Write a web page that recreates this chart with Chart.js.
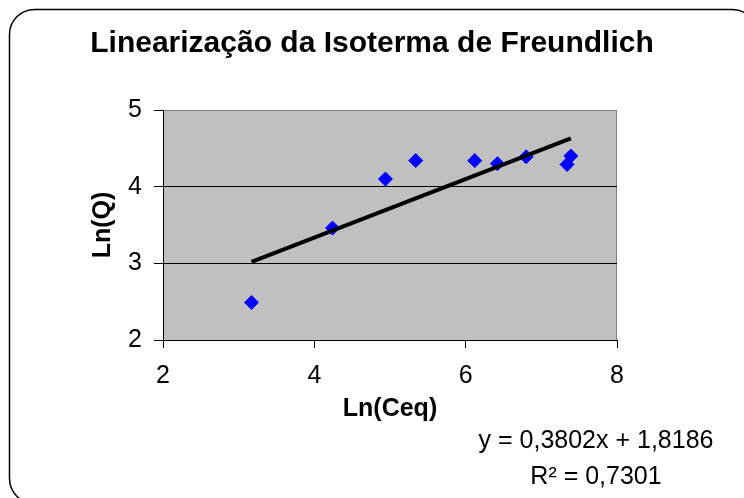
<!DOCTYPE html>
<html>
<head>
<meta charset="utf-8">
<script src="https://cdn.jsdelivr.net/npm/chart.js@4/dist/chart.umd.min.js"></script>
<style>
  html, body { margin: 0; padding: 0; background: #fff; }
  #wrap { width: 744px; height: 498px; position: relative; }
</style>
</head>
<body>
<div id="wrap"><canvas id="chart" width="744" height="498"></canvas></div>
<script>
// ---------------------------------------------------------------------------
// Data
// ---------------------------------------------------------------------------
const lnCeq = [3.17, 4.24, 4.94, 5.34, 6.12, 6.42, 6.80, 7.34, 7.39];
const lnQ   = [2.49, 3.46, 4.10, 4.34, 4.34, 4.30, 4.39, 4.29, 4.40];

// linear trend line ends, as drawn in the picture
const trendX = [3.17, 7.39];
const trendY = [3.02, 4.63];

const xTicks = [2, 4, 6, 8];
const yTicks = [2, 3, 4, 5];

const equationLines = ['y = 0,3802x + 1,8186', 'R² = 0,7301'];

const FONT = "Arial, 'Liberation Sans', sans-serif";
Chart.defaults.color = '#000';
Chart.defaults.font.family = FONT;

// ---------------------------------------------------------------------------
// Frame, plot background and trend-line equation
// ---------------------------------------------------------------------------
const decor = {
  id: 'decor',
  beforeDraw(chart) {
    const { ctx, chartArea: a } = chart;
    ctx.save();
    ctx.fillStyle = '#fff';
    ctx.fillRect(0, 0, chart.width, chart.height);
    // rounded outer frame (runs off the right/bottom edge)
    ctx.strokeStyle = '#000';
    ctx.lineWidth = 1.5;
    ctx.beginPath();
    ctx.roundRect(9.5, 9.5, 748, 494, 25);
    ctx.stroke();
    // plot area
    ctx.fillStyle = '#c0c0c0';
    ctx.fillRect(a.left, a.top, a.right - a.left, a.bottom - a.top);
    ctx.strokeStyle = '#808080';
    ctx.lineWidth = 1;
    ctx.strokeRect(a.left + 0.5, a.top + 0.5, a.right - a.left - 1, a.bottom - a.top);
    ctx.restore();
  },
  afterDraw(chart) {
    const { ctx } = chart;
    ctx.save();
    ctx.fillStyle = '#000';
    ctx.font = '25px ' + FONT;
    ctx.textAlign = 'center';
    ctx.textBaseline = 'middle';
    ctx.fillText(equationLines[0], 596, 441);
    ctx.fillText(equationLines[1], 596, 477);
    ctx.restore();
  },
};

new Chart(document.getElementById('chart'), {
  type: 'scatter',
  data: {
    datasets: [
      {
        label: 'Ln(Q)',
        data: lnCeq.map((x, i) => ({ x, y: lnQ[i] })),
        pointStyle: 'rectRot',
        pointRadius: 7,
        backgroundColor: '#0000ff',
        borderColor: '#0000ff',
        borderWidth: 1,
        order: 1,
      },
      {
        type: 'line',
        label: 'Linear',
        data: trendX.map((x, i) => ({ x, y: trendY[i] })),
        borderColor: '#000',
        borderWidth: 4,
        pointRadius: 0,
        fill: false,
        order: 0,
      },
    ],
  },
  options: {
    responsive: false,
    animation: false,
    layout: { padding: { left: 0, right: 0, top: 0, bottom: 58 } },
    plugins: {
      legend: { display: false },
      tooltip: { enabled: false },
      title: {
        display: true,
        text: 'Linearização da Isoterma de Freundlich',
        font: { size: 30, weight: 'bold' },
        padding: { top: 26, bottom: 48 },
      },
    },
    scales: {
      x: {
        type: 'linear',
        min: 2,
        max: 8,
        afterBuildTicks: s => { s.ticks = xTicks.map(v => ({ value: v })); },
        afterFit: s => { s.height = 100; },
        ticks: { font: { size: 25 }, padding: 13 },
        grid: { drawOnChartArea: false, drawTicks: true, tickLength: 8, color: '#000' },
        border: { color: '#000', width: 1 },
        title: {
          display: true,
          text: 'Ln(Ceq)',
          font: { size: 25, weight: 'bold' },
          padding: { top: 16, bottom: 16 },
        },
      },
      y: {
        type: 'linear',
        min: 2,
        max: 5,
        afterBuildTicks: s => { s.ticks = yTicks.map(v => ({ value: v })); },
        afterFit: s => { s.width = 163; },
        ticks: { font: { size: 25 }, padding: 12 },
        grid: {
          tickLength: 9,
          color: c => (c.tick && c.tick.value === 5 ? '#808080' : '#000'),
          tickColor: '#000',
        },
        border: { color: '#000', width: 1 },
        title: {
          display: true,
          text: 'Ln(Q)',
          font: { size: 25, weight: 'bold' },
          padding: { top: 88, bottom: 88 },
        },
      },
      // empty right-hand box so the plot ends at x=617 while the title stays centred on the page
      spacer: {
        type: 'linear',
        position: 'right',
        grid: { display: false },
        ticks: { display: false },
        border: { display: false },
        afterFit: s => { s.width = 127; },
      },
    },
  },
  plugins: [decor],
});
</script>
</body>
</html>
